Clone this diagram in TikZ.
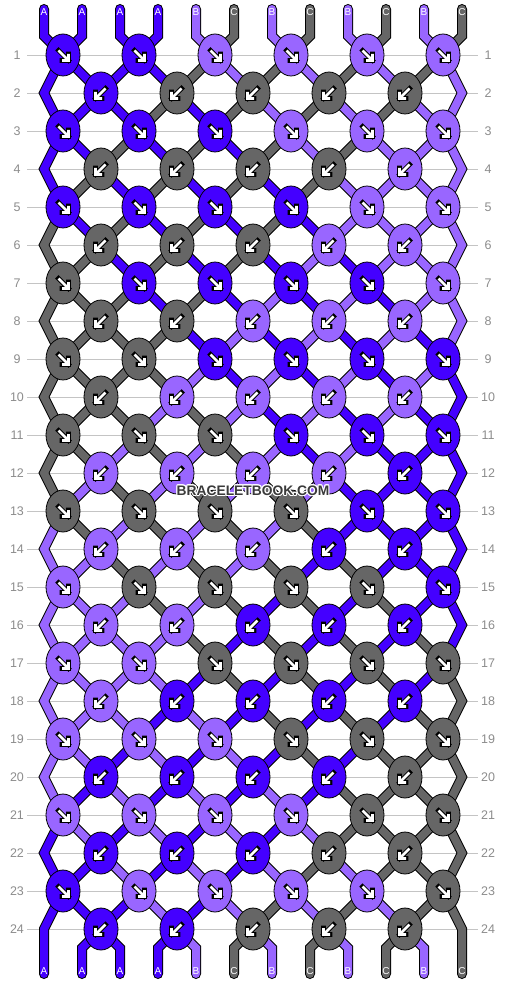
\documentclass[tikz,border=0pt]{standalone}
\usepackage{fontspec}
\setmainfont{Liberation Sans}
\usepackage{contour}
\contourlength{1.1pt}
\contournumber{12}
\usetikzlibrary{shapes.geometric}

\definecolor{cA}{HTML}{4400FF}
\definecolor{cB}{HTML}{9966FF}
\definecolor{cC}{HTML}{666666}
\definecolor{rowgray}{HTML}{C4C4C4}
\definecolor{numgray}{HTML}{8C8C8C}
\definecolor{markgray}{HTML}{3A3A3A}

\pgfdeclarelayer{grid}
\pgfdeclarelayer{strands}
\pgfsetlayers{grid,strands,main}

\tikzset{
  knot/.style={ellipse, draw=black, line width=0.8pt, fill=#1,
    minimum width=34pt, minimum height=42pt, inner sep=0pt},
  strand/.style={draw=black, line width=10pt, line cap=round, line join=miter,
    postaction={draw=#1, line width=8pt}},
  rowline/.style={draw=rowgray, line width=0.9pt},
  rownum/.style={text=numgray, font=\fontsize{12.5}{13}\selectfont},
  endlabel/.style={text=white, font=\fontsize{10}{10}\selectfont, inner sep=0pt},
  dr/.pic={
    \draw[black, line width=4.6pt, line cap=rect] (-4.5,-4.5) -- (5.5,5.5) (5.5,-1) -- (5.5,5.5) -- (-1,5.5);
    \draw[white, line width=2.8pt] (-4.5,-4.5) -- (5.5,5.5) (5.5,-1) -- (5.5,5.5) -- (-1,5.5);
  },
  dl/.pic={
    \draw[black, line width=4.6pt, line cap=rect] (4.5,-4.5) -- (-5.5,5.5) (-5.5,-1) -- (-5.5,5.5) -- (1,5.5);
    \draw[white, line width=2.8pt] (4.5,-4.5) -- (-5.5,5.5) (-5.5,-1) -- (-5.5,5.5) -- (1,5.5);
  }
}

% string colours after each row (row 0 = top)
\def\states{0/{A,A,A,A,B,C,B,C,B,C,B,C},
  1/{A,A,A,A,C,B,C,B,C,B,C,B},
  2/{A,A,A,C,A,C,B,C,B,C,B,B},
  3/{A,A,C,A,C,A,C,B,C,B,B,B},
  4/{A,C,A,C,A,C,A,C,B,B,B,B},
  5/{C,A,C,A,C,A,C,A,B,B,B,B},
  6/{C,C,A,C,A,C,A,B,A,B,B,B},
  7/{C,C,C,A,C,A,B,A,B,A,B,B},
  8/{C,C,C,C,A,B,A,B,A,B,A,B},
  9/{C,C,C,C,B,A,B,A,B,A,B,A},
  10/{C,C,C,B,C,B,A,B,A,B,A,A},
  11/{C,C,B,C,B,C,B,A,B,A,A,A},
  12/{C,B,C,B,C,B,C,B,A,A,A,A},
  13/{B,C,B,C,B,C,B,C,A,A,A,A},
  14/{B,B,C,B,C,B,C,A,C,A,A,A},
  15/{B,B,B,C,B,C,A,C,A,C,A,A},
  16/{B,B,B,B,C,A,C,A,C,A,C,A},
  17/{B,B,B,B,A,C,A,C,A,C,A,C},
  18/{B,B,B,A,B,A,C,A,C,A,C,C},
  19/{B,B,A,B,A,B,A,C,A,C,C,C},
  20/{B,A,B,A,B,A,B,A,C,C,C,C},
  21/{A,B,A,B,A,B,A,B,C,C,C,C},
  22/{A,A,B,A,B,A,B,C,B,C,C,C},
  23/{A,A,A,B,A,B,C,B,C,B,C,C},
  24/{A,A,A,A,B,C,B,C,B,C,B,C}}

\begin{document}
\begin{tikzpicture}[x=1pt,y=-1pt]
\useasboundingbox (0,0) rectangle (506,984);

% row lines and numbers
\begin{pgfonlayer}{grid}
\foreach \r in {1,...,24} {
  \pgfmathsetmacro\y{17+38*\r}
  \draw[rowline] (27,\y) -- (478,\y);
}
\end{pgfonlayer}
\foreach \r in {1,...,24} {
  \pgfmathsetmacro\y{17+38*\r}
  \node[rownum] (ln\r) at (17,\y) {\r};
  \node[rownum] (rn\r) at (488,\y) {\r};
}

% ends of the strings
\foreach \p in {1,...,12} {
  \pgfmathsetmacro\x{6+38*\p}
  \coordinate (top\p) at (\x,9);
  \coordinate (topbend\p) at (\x,36);
  \coordinate (botbend\p) at (\x,948);
  \coordinate (bot\p) at (\x,974);
}
\foreach \r in {2,4,...,24} {
  \pgfmathsetmacro\y{17+38*\r}
  \coordinate (el\r) at (44,\y);
  \coordinate (er\r) at (462,\y);
}

% knots
\foreach \r/\st in \states {
  \ifnum\r>0
    \pgfmathsetmacro\y{17+38*\r}
    \foreach \c [count=\p] in \st {
      \pgfmathtruncatemacro\i{\p/2}
      \ifodd\r
        \ifodd\p\else
          \node[knot=c\c] (k\r-\i) at (-13+76*\i,\y) {};
          \pic at (k\r-\i) {dr};
        \fi
      \else
        \ifodd\p\else\ifnum\p<12
          \node[knot=c\c] (k\r-\i) at (25+76*\i,\y) {};
          \pic at (k\r-\i) {dl};
        \fi\fi
      \fi
    }
  \fi
}

% strings between the knots
\begin{pgfonlayer}{strands}
\foreach \r/\st in \states {
  \pgfmathtruncatemacro\n{\r+1}
  \pgfmathtruncatemacro\nn{\r+2}
  \foreach \c [count=\p] in \st {
    \pgfmathtruncatemacro\up{(\p+1)/2}
    \pgfmathtruncatemacro\dn{\p/2}
    \ifnum\r=0
      \draw[strand=c\c] (top\p) -- (topbend\p) -- (k1-\up.center);
    \else\ifnum\r=24
      \ifnum\p>1\ifnum\p<12
        \draw[strand=c\c] (k24-\dn.center) -- (botbend\p) -- (bot\p);
      \fi\fi
    \else\ifodd\r
      \ifnum\p=1
        \ifnum\r=23
          \draw[strand=c\c] (k23-1.center) -- (el24) -- (bot1);
        \else
          \draw[strand=c\c] (k\r-1.center) -- (el\n) -- (k\nn-1.center);
        \fi
      \else\ifnum\p=12
        \ifnum\r=23
          \draw[strand=c\c] (k23-6.center) -- (er24) -- (bot12);
        \else
          \draw[strand=c\c] (k\r-6.center) -- (er\n) -- (k\nn-6.center);
        \fi
      \else
        \draw[strand=c\c] (k\r-\up.center) -- (k\n-\dn.center);
      \fi\fi
    \else
      \ifnum\p>1\ifnum\p<12
        \draw[strand=c\c] (k\r-\dn.center) -- (k\n-\up.center);
      \fi\fi
    \fi\fi\fi
  }
}
\end{pgfonlayer}

% letters on the ends
\foreach \c [count=\p] in {A,A,A,A,B,C,B,C,B,C,B,C} {
  \pgfmathsetmacro\x{6+38*\p}
  \node[endlabel] (tl\p) at (\x,12) {\c};
  \node[endlabel] (bl\p) at (\x,971) {\c};
}

% watermark with a white rim
\node[text=markgray, font=\bfseries\fontsize{13.8}{14}\selectfont] (mark) at (253,491) {\contour{white}{BRACELETBOOK.COM}};

\end{tikzpicture}
\end{document}
